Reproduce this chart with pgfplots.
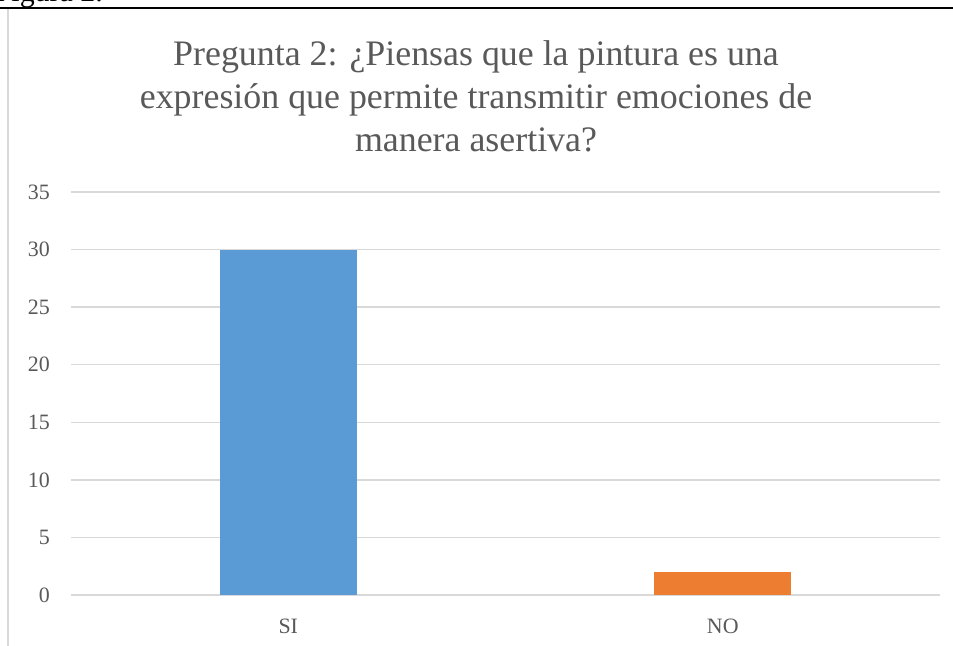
\documentclass[border=0pt]{standalone}
\usepackage{pgfplots}
\pgfplotsset{compat=1.18}
\usepackage{fontspec}
\setmainfont{Liberation Serif}
\definecolor{txt}{HTML}{595959}
\definecolor{gridc}{HTML}{D9D9D9}
\definecolor{barblue}{HTML}{5B9BD5}
\definecolor{barorange}{HTML}{ED7D31}
\begin{document}
\begin{tikzpicture}[x=1bp,y=1bp]
\useasboundingbox (0,0) rectangle (953,646);
\begin{scope}
\clip (0,0) rectangle (953,646);
\node[anchor=base east, inner sep=0pt, font=\fontsize{30}{36}\selectfont] at (103,644) {Figura 2.};
\end{scope}
\draw[black, line width=1.2bp] (0,638) -- (953,638);
\draw[gridc, line width=1.5bp] (8,637) -- (8,0);
\node[anchor=base, inner sep=0pt, text=txt, font=\fontsize{36}{42}\selectfont] at (476,580) {Pregunta 2: ¿Piensas que la pintura es una};
\node[anchor=base, inner sep=0pt, text=txt, font=\fontsize{36}{42}\selectfont] at (476,537) {expresión que permite transmitir emociones de};
\node[anchor=base, inner sep=0pt, text=txt, font=\fontsize{36}{42}\selectfont] at (476,494) {manera asertiva?};
\begin{axis}[
  at={(71bp,51bp)}, anchor=south west,
  scale only axis, width=869bp, height=403bp,
  xmin=-0.5, xmax=1.5, ymin=0, ymax=35,
  xtick={0,1}, xticklabels={SI,NO},
  ytick={0,5,10,15,20,25,30,35},
  ymajorgrids, grid style={gridc, line width=1.3bp},
  axis line style={draw=none}, tick style={draw=none},
  /pgf/number format/assume math mode=true,
  ticklabel style={text=txt, font=\fontsize{22}{26}\selectfont, inner sep=0pt},
  yticklabel style={xshift=-21bp},
  xticklabel style={yshift=-20bp},
  ybar, bar width=137bp,
]
\addplot[fill=barblue, draw=none, bar shift=0pt] coordinates {(0,30)};
\addplot[fill=barorange, draw=none, bar shift=0pt] coordinates {(1,2)};
\end{axis}
\end{tikzpicture}
\end{document}
